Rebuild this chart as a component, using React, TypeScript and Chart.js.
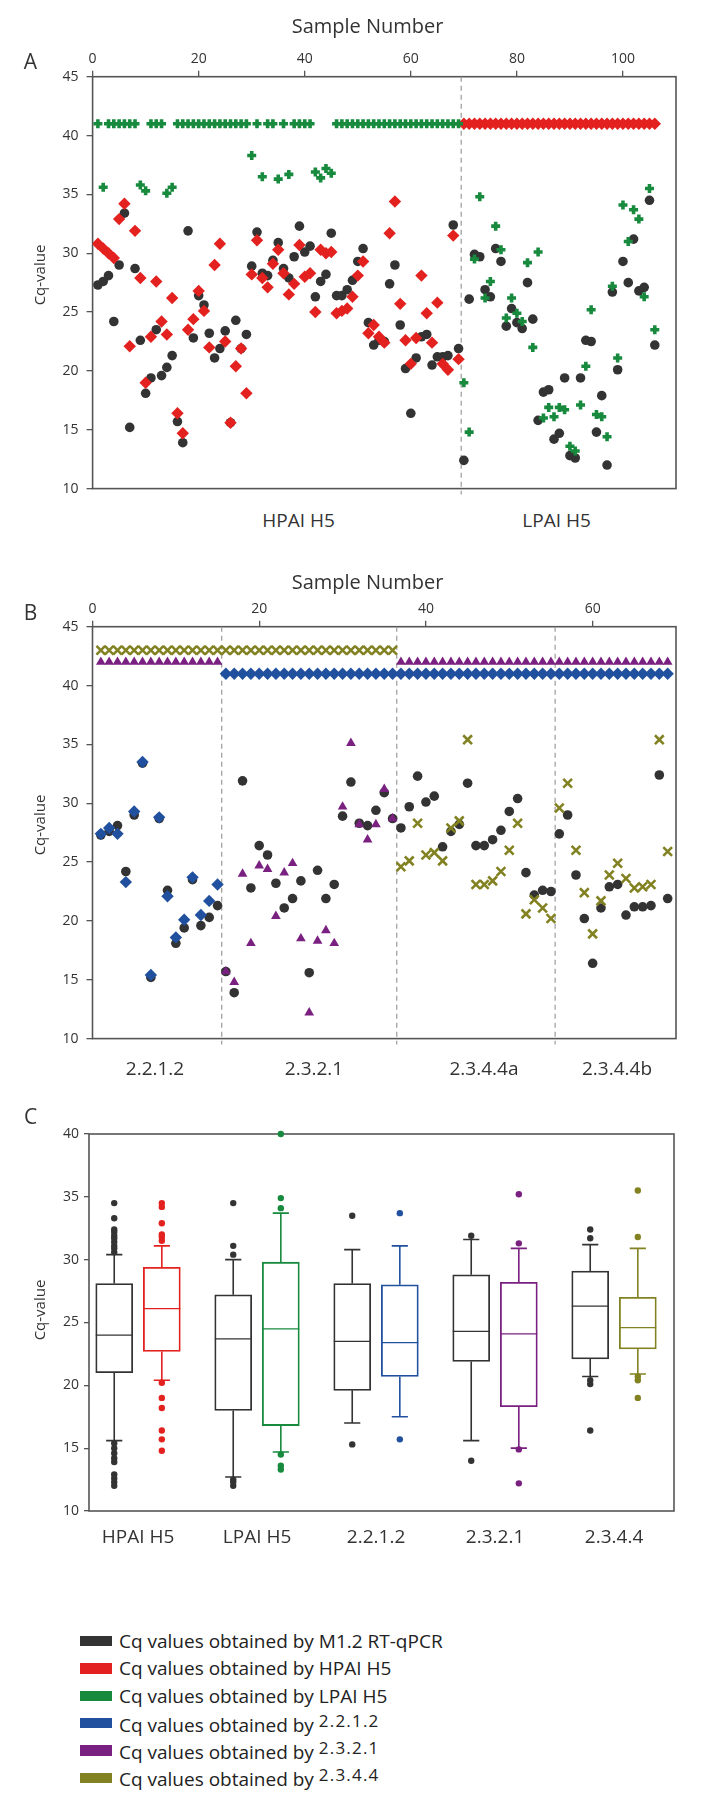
import React, { useEffect, useRef } from 'react';
import { Chart, registerables } from 'chart.js';

Chart.register(...registerables);

// ---------------- Panel A: Cq values per sample (HPAI H5 samples 1-69, LPAI H5 samples 70-106)
const M12_CQ = [
  27.3, 27.6, 28.1, 24.2, 29.0, 33.4, 15.2, 28.7, 22.6, 18.1,
  19.4, 23.5, 19.6, 20.3, 21.3, 15.7, 13.9, 31.9, 22.8, 26.4,
  25.6, 23.2, 21.1, 21.9, 23.4, 15.6, 24.3, 21.9, 23.1, 28.9,
  31.8, 28.3, 28.1, 29.4, 30.9, 28.7, 27.9, 29.7, 32.3, 30.1,
  30.6, 26.3, 27.6, 28.2, 31.7, 26.4, 26.4, 26.9, 27.7, 29.3,
  30.4, 24.1, 22.2, 22.6, 22.5, 27.4, 29.0, 23.9, 20.2, 16.4,
  21.1, 22.9, 23.1, 20.5, 21.2, 21.2, 21.3, 32.4, 21.9,
  12.4, 26.1, 29.9, 29.7, 26.9, 26.3, 30.4, 29.3, 23.8, 25.3,
  24.1, 23.6, 27.5, 24.4, 15.8, 18.2, 18.4, 14.2, 14.7, 19.4,
  12.8, 12.6, 19.4, 22.6, 22.5, 14.8, 17.9, 12.0, 26.7, 20.1,
  29.3, 27.5, 31.2, 26.8, 27.1, 34.5, 22.2,
];

const HPAI_H5_CQ = [
  30.8, 30.4, 30.0, 29.6, 32.9, 34.2, 22.1, 31.9, 27.9, 19.0,
  22.9, 27.6, 24.2, 23.1, 26.2, 16.4, 14.7, 23.5, 24.4, 26.8,
  25.1, 22.0, 29.0, 30.8, 22.5, 15.6, 20.4, 21.9, 18.1, 28.2,
  31.1, 27.9, 27.1, 29.1, 30.3, 28.3, 26.5, 27.4, 30.7, 28.0,
  28.3, 25.0, 30.3, 30.0, 30.1, 24.9, 25.1, 25.3, 26.3, 28.1,
  29.3, 23.2, 23.9, 22.9, 22.4, 31.7, 34.4, 25.7, 22.6, 20.6,
  22.8, 28.1, 24.9, 22.4, 25.8, 20.6, 20.1, 31.5, 21.0,
  41, 41, 41, 41, 41, 41, 41, 41, 41, 41,
  41, 41, 41, 41, 41, 41, 41, 41, 41, 41,
  41, 41, 41, 41, 41, 41, 41, 41, 41, 41,
  41, 41, 41, 41, 41, 41, 41,
];

const LPAI_H5_CQ = [
  41, 35.6, 41, 41, 41, 41, 41, 41, 35.8, 35.3,
  41, 41, 41, 35.1, 35.6, 41, 41, 41, 41, 41,
  41, 41, 41, 41, 41, 41, 41, 41, 41, 38.3,
  41, 36.5, 41, 41, 36.3, 41, 36.7, 41, 41, 41,
  41, 36.9, 36.4, 37.2, 36.8, 41, 41, 41, 41, 41,
  41, 41, 41, 41, 41, 41, 41, 41, 41, 41,
  41, 41, 41, 41, 41, 41, 41, 41, 41,
  19.0, 14.8, 29.5, 34.8, 26.2, 27.6, 32.3, 30.3, 24.5, 26.2,
  24.9, 24.2, 29.2, 22.0, 30.1, 16.0, 16.9, 16.1, 16.9, 16.7,
  13.6, 13.2, 17.1, 20.4, 25.2, 16.3, 16.1, 14.4, 27.2, 21.1,
  34.1, 31.0, 33.7, 32.9, 26.3, 35.5, 23.5,
];

const A_DIVIDERS = [69.5];
const A_GROUP_LABELS = ['HPAI H5', 'LPAI H5'];

// ---------------- Panel B: HPAI H5 samples 1-69 by clade assay
const B_SAMPLE_COUNT = 69;
const CLADE_2212_CQ = [
  27.4, 27.9, 27.4, 23.3, 29.3, 33.5, 15.4, 28.8, 22.1, 18.6,
  20.1, 23.7, 20.5, 21.7, 23.1,
  41, 41, 41, 41, 41, 41, 41, 41, 41, 41,
  41, 41, 41, 41, 41, 41, 41, 41, 41, 41,
  41, 41, 41, 41, 41, 41, 41, 41, 41, 41,
  41, 41, 41, 41, 41, 41, 41, 41, 41, 41,
  41, 41, 41, 41, 41, 41, 41, 41, 41, 41,
  41, 41, 41, 41,
];
const CLADE_2321_CQ = [
  42, 42, 42, 42, 42, 42, 42, 42, 42, 42,
  42, 42, 42, 42, 42,
  15.7, 14.8, 24.0, 18.1, 24.7, 24.4, 20.4, 24.1, 24.9, 18.5,
  12.2, 18.3, 19.2, 18.1, 29.7, 35.1, 28.2, 26.9, 28.2, 31.2,
  28.7,
  42, 42, 42, 42, 42, 42, 42, 42, 42, 42,
  42, 42, 42, 42, 42, 42, 42, 42, 42, 42,
  42, 42, 42, 42, 42, 42, 42, 42, 42, 42,
  42, 42, 42,
];
const CLADE_2344_CQ = [
  43, 43, 43, 43, 43, 43, 43, 43, 43, 43,
  43, 43, 43, 43, 43, 43, 43, 43, 43, 43,
  43, 43, 43, 43, 43, 43, 43, 43, 43, 43,
  43, 43, 43, 43, 43, 43,
  24.6, 25.1, 28.3, 25.6, 25.8, 25.1, 27.9, 28.5, 35.4, 23.1,
  23.1, 23.4, 24.2, 26.0, 28.3, 20.6, 21.8, 21.1, 20.2,
  29.6, 31.7, 26.0, 22.4, 18.9, 21.7, 23.9, 24.9, 23.6, 22.8,
  22.9, 23.1, 35.4, 25.9,
];
const B_DIVIDERS = [15.5, 36.5, 55.5];
const B_GROUP_LABELS = ['2.2.1.2', '2.3.2.1', '2.3.4.4a', '2.3.4.4b'];

// ---------------- Panel C: box plots [lower whisker, Q1, median, Q3, upper whisker]
const C_CATEGORIES = ['HPAI H5', 'LPAI H5', '2.2.1.2', '2.3.2.1', '2.3.4.4'];
const C_M12_STATS = [
  [15.6, 21.0, 24.0, 28.1, 30.4],
  [12.7, 18.0, 23.7, 27.2, 30.0],
  [17.0, 19.6, 23.5, 28.1, 30.8],
  [15.6, 21.9, 24.3, 28.8, 31.6],
  [20.7, 22.1, 26.3, 29.1, 31.2],
];
const C_ASSAY_STATS = [
  [20.4, 22.7, 26.1, 29.4, 31.1],
  [14.7, 16.8, 24.5, 29.8, 33.7],
  [17.5, 20.7, 23.4, 28.0, 31.1],
  [15.0, 18.3, 24.1, 28.2, 30.9],
  [20.9, 22.9, 24.6, 27.0, 30.9],
];
const C_M12_OUTLIERS = [
  [34.5, 33.3, 32.4, 32.2, 31.9, 31.7, 31.4, 31.1, 30.9, 30.6, 15.4, 15.0, 14.6, 14.2, 13.9, 12.9, 12.6, 12.3, 12.0],
  [34.5, 31.1, 30.4, 12.5, 12.3, 12.0],
  [33.5, 15.3],
  [31.9, 14.0],
  [32.4, 31.7, 20.4, 20.1, 16.4],
];
const C_ASSAY_OUTLIERS = [
  [34.5, 34.2, 32.9, 32.0, 31.8, 31.5, 20.2, 19.0, 18.2, 16.4, 15.7, 14.8],
  [40.0, 34.9, 34.1, 14.5, 13.6, 13.3],
  [33.7, 15.7],
  [35.2, 31.3, 14.9, 12.2],
  [35.5, 31.8, 20.7, 20.4, 19.0],
];

// ---------------- Colours & legend
const COL_M12 = '#333333';
const COL_HPAI = '#e3211f';
const COL_LPAI = '#178a3e';
const COL_2212 = '#20509e';
const COL_2321 = '#7a2081';
const COL_2344 = '#828222';
const C_ASSAY_COLORS = [COL_HPAI, COL_LPAI, COL_2212, COL_2321, COL_2344];
const AXIS = '#555555';
const TXT = '#333333';
const FONT = '"Open Sans", "DejaVu Sans", sans-serif';

const LEGEND_ITEMS = [
  { color: COL_M12, text: 'Cq values obtained by M1.2 RT-qPCR', sup: '' },
  { color: COL_HPAI, text: 'Cq values obtained by HPAI H5', sup: '' },
  { color: COL_LPAI, text: 'Cq values obtained by LPAI H5', sup: '' },
  { color: COL_2212, text: 'Cq values obtained by ', sup: '2.2.1.2' },
  { color: COL_2321, text: 'Cq values obtained by ', sup: '2.3.2.1' },
  { color: COL_2344, text: 'Cq values obtained by ', sup: '2.3.4.4' },
];

// ---------------- plugins
const framePlugin = {
  id: 'frame',
  beforeDatasetsDraw(chart: any) {
    const { ctx, chartArea: a } = chart;
    ctx.save();
    ctx.strokeStyle = AXIS;
    ctx.lineWidth = 1.6;
    ctx.strokeRect(a.left, a.top, a.right - a.left, a.bottom - a.top);
    ctx.restore();
  },
};

function dividerPlugin(values: number[]) {
  return {
    id: 'dividers',
    beforeDatasetsDraw(chart: any) {
      const { ctx, chartArea: a } = chart;
      const xs = chart.scales.x;
      ctx.save();
      ctx.setLineDash([5, 4]);
      ctx.strokeStyle = '#9a9a9a';
      ctx.lineWidth = 1.2;
      values.forEach((v) => {
        const px = xs.getPixelForValue(v);
        ctx.beginPath();
        ctx.moveTo(px, a.top);
        ctx.lineTo(px, a.bottom + 6);
        ctx.stroke();
      });
      ctx.restore();
    },
  };
}

const BOX_OFFSET = 0.2;
const CAP_HALF = 0.068;
const BOX_HALF = 0.155;
const C_BOXES = C_CATEGORIES.flatMap((_, g) => [
  { x: g - BOX_OFFSET, stats: C_M12_STATS[g], color: COL_M12 },
  { x: g + BOX_OFFSET, stats: C_ASSAY_STATS[g], color: C_ASSAY_COLORS[g] },
]);

const boxPlugin = {
  id: 'boxes',
  beforeDatasetsDraw(chart: any) {
    const { ctx } = chart;
    const xs = chart.scales.x;
    const ys = chart.scales.y;
    ctx.save();
    ctx.lineWidth = 1.6;
    C_BOXES.forEach((b) => {
      const [lo, q1, , q3, hi] = b.stats;
      const cx = xs.getPixelForValue(b.x);
      const cl = xs.getPixelForValue(b.x - CAP_HALF);
      const cr = xs.getPixelForValue(b.x + CAP_HALF);
      ctx.strokeStyle = b.color;
      ctx.beginPath();
      ctx.moveTo(cx, ys.getPixelForValue(q3));
      ctx.lineTo(cx, ys.getPixelForValue(hi));
      ctx.moveTo(cl, ys.getPixelForValue(hi));
      ctx.lineTo(cr, ys.getPixelForValue(hi));
      ctx.moveTo(cx, ys.getPixelForValue(q1));
      ctx.lineTo(cx, ys.getPixelForValue(lo));
      ctx.moveTo(cl, ys.getPixelForValue(lo));
      ctx.lineTo(cr, ys.getPixelForValue(lo));
      ctx.stroke();
    });
    ctx.restore();
  },
  afterDatasetsDraw(chart: any) {
    const { ctx } = chart;
    const xs = chart.scales.x;
    const ys = chart.scales.y;
    ctx.save();
    ctx.lineWidth = 1.2;
    C_BOXES.forEach((b) => {
      const med = b.stats[2];
      const y = ys.getPixelForValue(med);
      ctx.strokeStyle = b.color;
      ctx.beginPath();
      ctx.moveTo(xs.getPixelForValue(b.x - BOX_HALF), y);
      ctx.lineTo(xs.getPixelForValue(b.x + BOX_HALF), y);
      ctx.stroke();
    });
    ctx.restore();
  },
};

// ---------------- scale helpers
function yScale(width: number, tickLen: number, pad: number) {
  return {
    type: 'linear',
    position: 'left',
    min: 10,
    max: 45,
    ticks: { stepSize: 5, font: { family: FONT, size: 14 }, color: TXT, padding: pad },
    grid: { display: true, drawOnChartArea: false, drawTicks: true, tickLength: tickLen, color: AXIS, lineWidth: 1.3 },
    border: { display: false },
    afterFit: (s: any) => {
      s.width = width;
    },
  };
}

function topXScale(max: number, height: number) {
  return {
    type: 'linear',
    position: 'top',
    min: 0,
    max,
    ticks: { stepSize: 20, includeBounds: false, font: { family: FONT, size: 14 }, color: TXT, padding: 3, maxRotation: 0 },
    grid: { display: true, drawOnChartArea: false, drawTicks: true, tickLength: 6, color: AXIS, lineWidth: 1.3 },
    border: { display: false },
    afterFit: (s: any) => {
      s.height = height;
    },
  };
}

function seriesData(values: number[]) {
  return values.map((v, i) => ({ x: i + 1, y: v }));
}

const STYLE_M12 = { pointStyle: 'circle', pointRadius: 4.8, pointBackgroundColor: COL_M12, pointBorderColor: COL_M12, pointBorderWidth: 0 };
const STYLE_HPAI = { pointStyle: 'rectRot', pointRadius: 6.2, pointBackgroundColor: COL_HPAI, pointBorderColor: COL_HPAI, pointBorderWidth: 0 };
const STYLE_LPAI = { pointStyle: 'cross', pointRadius: 4.5, pointBackgroundColor: COL_LPAI, pointBorderColor: COL_LPAI, pointBorderWidth: 3.6 };
const STYLE_2212 = { pointStyle: 'rectRot', pointRadius: 6.2, pointBackgroundColor: COL_2212, pointBorderColor: COL_2212, pointBorderWidth: 0 };
const STYLE_2321 = { pointStyle: 'triangle', pointRadius: 5.6, pointBackgroundColor: COL_2321, pointBorderColor: COL_2321, pointBorderWidth: 0 };
const STYLE_2344 = { pointStyle: 'crossRot', pointRadius: 6.2, pointBackgroundColor: COL_2344, pointBorderColor: COL_2344, pointBorderWidth: 2.6 };

const BASE_OPTIONS = {
  animation: false,
  responsive: false,
  events: [],
  plugins: { legend: { display: false }, tooltip: { enabled: false } },
};

function buildA(): any {
  return {
    type: 'scatter',
    data: {
      datasets: [
        { label: 'LPAI H5', data: seriesData(LPAI_H5_CQ), order: 1, ...STYLE_LPAI },
        { label: 'HPAI H5', data: seriesData(HPAI_H5_CQ), order: 2, ...STYLE_HPAI },
        { label: 'M1.2', data: seriesData(M12_CQ), order: 3, ...STYLE_M12 },
      ],
    },
    options: {
      ...BASE_OPTIONS,
      layout: { padding: { left: 32, right: 27, top: 0, bottom: 8.3 } },
      scales: { x: topXScale(110, 76.7), y: yScale(60.6, 6, 8) },
    },
    plugins: [framePlugin, dividerPlugin(A_DIVIDERS)],
  };
}

function buildB(): any {
  const m12 = M12_CQ.slice(0, B_SAMPLE_COUNT);
  return {
    type: 'scatter',
    data: {
      datasets: [
        { label: '2.3.4.4', data: seriesData(CLADE_2344_CQ), order: 1, ...STYLE_2344 },
        { label: '2.3.2.1', data: seriesData(CLADE_2321_CQ), order: 2, ...STYLE_2321 },
        { label: '2.2.1.2', data: seriesData(CLADE_2212_CQ), order: 3, ...STYLE_2212 },
        { label: 'M1.2', data: seriesData(m12), order: 4, ...STYLE_M12 },
      ],
    },
    options: {
      ...BASE_OPTIONS,
      layout: { padding: { left: 32, right: 27, top: 0, bottom: 7.7 } },
      scales: { x: topXScale(70, 71.7), y: yScale(60.5, 6, 8) },
    },
    plugins: [framePlugin, dividerPlugin(B_DIVIDERS)],
  };
}

function buildC(): any {
  const outliers: any[] = [];
  const outlierColors: string[] = [];
  C_CATEGORIES.forEach((_, g) => {
    C_M12_OUTLIERS[g].forEach((v) => {
      outliers.push({ x: g - BOX_OFFSET, y: v });
      outlierColors.push(COL_M12);
    });
    C_ASSAY_OUTLIERS[g].forEach((v) => {
      outliers.push({ x: g + BOX_OFFSET, y: v });
      outlierColors.push(C_ASSAY_COLORS[g]);
    });
  });
  const y = yScale(57, 5, 5);
  return {
    type: 'scatter',
    data: {
      datasets: [
        {
          type: 'scatter',
          label: 'outliers',
          data: outliers,
          order: 1,
          clip: false,
          pointStyle: 'circle',
          pointRadius: 3.2,
          pointBorderWidth: 0,
          pointBackgroundColor: outlierColors,
          pointBorderColor: outlierColors,
        },
        {
          type: 'bar',
          label: 'boxes',
          data: C_BOXES.map((b) => ({ x: b.x, y: [b.stats[1], b.stats[3]] })),
          order: 2,
          barThickness: 37,
          borderSkipped: false,
          borderWidth: 1.8,
          borderColor: C_BOXES.map((b) => b.color),
          backgroundColor: 'rgba(255,255,255,1)',
        },
      ],
    },
    options: {
      ...BASE_OPTIONS,
      layout: { padding: { left: 32, right: 29, top: 34, bottom: 9 } },
      scales: {
        x: {
          type: 'linear',
          position: 'bottom',
          min: -0.412,
          max: 4.504,
          offset: false,
          ticks: {
            stepSize: 1,
            includeBounds: false,
            font: { family: FONT, size: 19 },
            color: TXT,
            padding: 15,
            maxRotation: 0,
            callback: (v: number) => C_CATEGORIES[v] ?? '',
          },
          grid: { display: false, drawTicks: false },
          border: { display: false },
          afterFit: (s: any) => {
            s.height = 50;
          },
        },
        y: { ...y, min: 10, max: 40 },
      },
    },
    plugins: [framePlugin, boxPlugin],
  };
}

function ChartCanvas({ top, height, build }: { top: number; height: number; build: () => any }) {
  const ref = useRef<HTMLCanvasElement | null>(null);
  useEffect(() => {
    const chart = new Chart(ref.current as HTMLCanvasElement, build());
    return () => chart.destroy();
  }, []);
  return (
    <canvas
      ref={ref}
      width={703}
      height={height}
      style={{ position: 'absolute', left: 0, top, width: 703, height }}
    />
  );
}

function Label({ x, y, size, rotate, children }: { x: number; y: number; size: number; rotate?: boolean; children: any }) {
  return (
    <div
      style={{
        position: 'absolute',
        left: x,
        top: y,
        transform: rotate ? 'translate(-50%, -50%) rotate(-90deg)' : 'translate(-50%, -50%)',
        fontFamily: FONT,
        fontSize: size,
        color: TXT,
        whiteSpace: 'nowrap',
        lineHeight: 1,
      }}
    >
      {children}
    </div>
  );
}

export default function App() {
  return (
    <div style={{ position: 'absolute', left: 0, top: 0, width: 703, height: 1798, background: '#fff', overflow: 'hidden' }}>
      <ChartCanvas top={0} height={505} build={buildA} />
      <ChartCanvas top={555} height={500} build={buildB} />
      <ChartCanvas top={1100} height={470} build={buildC} />

      <Label x={367.6} y={26} size={20}>Sample Number</Label>
      <Label x={30.5} y={61} size={21}>A</Label>
      <Label x={39} y={275} size={15} rotate>Cq-value</Label>
      <Label x={298.6} y={520} size={19}>{A_GROUP_LABELS[0]}</Label>
      <Label x={556.6} y={520} size={19}>{A_GROUP_LABELS[1]}</Label>

      <Label x={367.6} y={582} size={20}>Sample Number</Label>
      <Label x={30.5} y={612} size={21}>B</Label>
      <Label x={39} y={825} size={15} rotate>Cq-value</Label>
      <Label x={155} y={1068} size={19}>{B_GROUP_LABELS[0]}</Label>
      <Label x={314} y={1068} size={19}>{B_GROUP_LABELS[1]}</Label>
      <Label x={484} y={1068} size={19}>{B_GROUP_LABELS[2]}</Label>
      <Label x={617} y={1068} size={19}>{B_GROUP_LABELS[3]}</Label>

      <Label x={30.5} y={1116} size={21}>C</Label>
      <Label x={39} y={1310} size={15} rotate>Cq-value</Label>

      {LEGEND_ITEMS.map((item, i) => (
        <div
          key={i}
          style={{
            position: 'absolute',
            left: 80,
            top: 1641 + i * 27.4 - 14,
            height: 28,
            display: 'flex',
            alignItems: 'center',
            fontFamily: FONT,
            fontSize: 19,
            color: '#222',
            whiteSpace: 'nowrap',
          }}
        >
          <span style={{ display: 'inline-block', width: 32, height: 10.5, background: item.color, marginRight: 7 }} />
          <span>
            {item.text}
            {item.sup ? (
              <span style={{ fontSize: 17, letterSpacing: 1.2, verticalAlign: '0.3em' }}>{item.sup}</span>
            ) : null}
          </span>
        </div>
      ))}
    </div>
  );
}
